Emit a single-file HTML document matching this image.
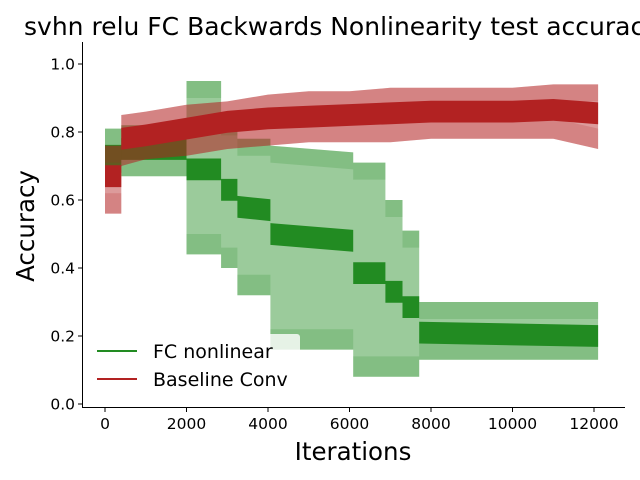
<!DOCTYPE html>
<html><head><meta charset="utf-8"><style>
body{margin:0;background:#fff;}
svg{display:block;font-family:"DejaVu Sans","Liberation Sans",sans-serif;}
</style></head><body>
<svg id="chart" width="640" height="480" viewBox="0 0 640 480">
<text x="24" y="35" font-size="25" fill="#000">svhn relu FC Backwards Nonlinearity test accuracy</text>
<g id="plot"></g>
<g id="axes"></g>
<g>
<rect x="88" y="334" width="212" height="58" rx="3" fill="#fff" fill-opacity="0.8"/>
<line x1="97" y1="351" x2="137" y2="351" stroke="#228b22" stroke-width="2"/>
<text x="153" y="358" font-size="19">FC nonlinear</text>
<line x1="97" y1="379" x2="137" y2="379" stroke="#b22222" stroke-width="2"/>
<text x="153" y="386" font-size="19">Baseline Conv</text>
</g>
<text x="353" y="460" font-size="24.5" text-anchor="middle">Iterations</text>
<text x="0" y="0" font-size="24.5" text-anchor="middle" transform="translate(34,226) rotate(-90)">Accuracy</text>
</svg>
<script>
const xTicks=[0,2000,4000,6000,8000,10000,12000];
const yTicks=[0.0,0.2,0.4,0.6,0.8,1.0];
const greenIter=[0,400,400,2000,2000,2850,2850,3250,3250,4060,4060,6090,6090,6880,6880,7300,7300,7710,7710,12100];
const greenMean=[0.73,0.73,0.75,0.75,0.69,0.69,0.63,0.63,0.58,0.57,0.50,0.48,0.385,0.385,0.33,0.33,0.285,0.285,0.21,0.20];
const greenLo=[0.68,0.68,0.67,0.67,0.44,0.44,0.40,0.40,0.32,0.32,0.16,0.16,0.08,0.08,0.08,0.08,0.08,0.08,0.13,0.13];
const greenHi=[0.81,0.81,0.82,0.82,0.95,0.95,0.84,0.84,0.78,0.78,0.76,0.74,0.71,0.71,0.60,0.60,0.51,0.51,0.30,0.30];
const redIter=[0,400,400,1000,2000,3000,4000,5000,6000,7000,8000,9000,10000,11000,12100];
const redMean=[0.67,0.67,0.78,0.79,0.81,0.83,0.84,0.845,0.85,0.855,0.86,0.86,0.86,0.865,0.855];
const redLo=[0.56,0.56,0.70,0.72,0.73,0.75,0.76,0.77,0.77,0.77,0.78,0.78,0.78,0.78,0.75];
const redHi=[0.76,0.76,0.85,0.86,0.88,0.89,0.91,0.92,0.92,0.93,0.93,0.93,0.93,0.94,0.94];
const NS='http://www.w3.org/2000/svg';
function xs(i){return 105+i*81.5/2000;}
function ys(v){return 404-v*340;}
function band(it,lo,hi){let p=it.map((t,k)=>xs(t).toFixed(1)+','+ys(hi[k]).toFixed(1));
 for(let k=it.length-1;k>=0;k--)p.push(xs(it[k]).toFixed(1)+','+ys(lo[k]).toFixed(1));return p.join(' ');}
function off(a,d){return a.map(v=>v+d);}
const plot=document.getElementById('plot');
function poly(pts,fill,op,name){const e=document.createElementNS(NS,'polygon');e.setAttribute('points',pts);e.setAttribute('fill',fill);e.setAttribute('fill-opacity',op);


plot.appendChild(e);}
function series(it,m,lo,hi,col,nm){
 poly(band(it,lo,hi),col,0.45,nm+'-range-band');
 poly(band(it,lo,off(lo,0.06)),col,0.2,nm+'-lower-edge');
 poly(band(it,off(hi,-0.05),hi),col,0.2,nm+'-upper-edge');
 poly(band(it,off(m,-0.032),off(m,0.032)),col,1,nm+'-mean-line');
}
series(greenIter,greenMean,greenLo,greenHi,'#228b22','fc-nonlinear');
series(redIter,redMean,redLo,redHi,'#b22222','baseline-conv');
const ax=document.getElementById('axes');
function ln(x1,y1,x2,y2,name){const e=document.createElementNS(NS,'line');e.setAttribute('x1',x1);e.setAttribute('y1',y1);e.setAttribute('x2',x2);e.setAttribute('y2',y2);e.setAttribute('stroke','#000');e.setAttribute('stroke-width','1');


ax.appendChild(e);}
function tx(x,y,s,anc,name){const e=document.createElementNS(NS,'text');e.setAttribute('x',x);e.setAttribute('y',y);e.setAttribute('font-size','15.5');e.setAttribute('text-anchor',anc);e.textContent=s;


ax.appendChild(e);}
ln(82.5,42,82.5,408,'y-axis-line');
ln(82,407.5,625,407.5,'x-axis-line');
xTicks.forEach(t=>{const x=xs(t);ln(x,408,x,412,'x-tick');tx(x,429,String(t),'middle','x-tick-label');});
yTicks.forEach(t=>{const y=ys(t);ln(78,y,82,y,'y-tick');tx(75,y+5.5,t.toFixed(1),'end','y-tick-label');});
</script>
</body></html>
